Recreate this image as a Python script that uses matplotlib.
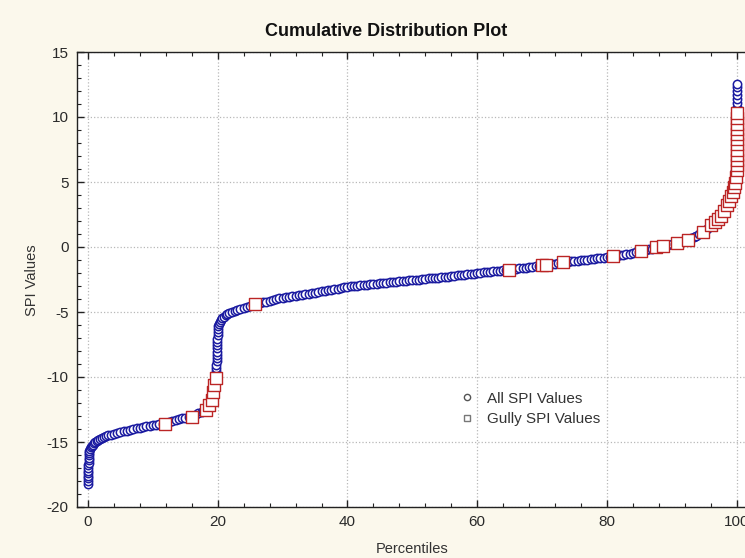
import matplotlib
matplotlib.use("Agg")
import matplotlib.pyplot as plt
from matplotlib.lines import Line2D
from matplotlib.ticker import MultipleLocator

plt.rcParams['font.family'] = ['Liberation Sans', 'DejaVu Sans']
plt.rcParams['axes.unicode_minus'] = False

# ---- data ----
all_pct = [
    0.00, 0.01, 0.02, 0.03, 0.04, 0.05, 0.06, 0.07, 0.08, 0.09, 0.10, 0.12,
    0.15, 0.20, 0.30, 0.40, 0.55, 0.70, 0.90, 1.10, 1.35, 1.60, 1.90, 2.20, 2.50, 2.80, 3.10,
    3.5, 4.0, 4.5, 5.0, 5.5, 6.0, 6.5, 7.0, 7.5, 8.0, 8.5, 9.0, 9.5, 10.0, 10.5, 11.0, 11.5,
    12.0, 12.5, 13.0, 13.5, 14.0, 14.5, 15.0, 15.5, 16.0, 16.5, 17.0, 17.5, 17.8, 18.1, 18.4,
    18.6, 18.8, 19.0, 19.15, 19.3, 19.4, 19.5, 19.58, 19.65, 19.7, 19.73, 19.76, 19.78, 19.8,
    19.82, 19.84, 19.86, 19.88, 19.9, 19.92, 19.94, 19.96, 19.98, 20.0, 20.04, 20.1, 20.2,
    20.35, 20.5, 20.7, 20.9, 21.2, 21.5, 21.8, 22.2, 22.6, 23.0, 23.5, 24.0, 24.5, 25.0, 25.5,
    26.0, 26.5, 27.0, 27.5, 28.0, 28.5, 29.0, 29.5, 30.0,
    30.5, 31.0, 31.5, 32.0, 32.5, 33.0, 33.5, 34.0, 34.5, 35.0, 35.5, 36.0, 36.5, 37.0, 37.5,
    38.0, 38.5, 39.0, 39.5, 40.0,
    40.5, 41.0, 41.5, 42.0, 42.5, 43.0, 43.5, 44.0, 44.5, 45.0, 45.5, 46.0, 46.5, 47.0, 47.5, 48.0,
    48.5, 49.0, 49.5, 50.0, 50.5, 51.0, 51.5, 52.0, 52.5, 53.0, 53.5, 54.0, 54.5, 55.0,
    55.5, 56.0, 56.5, 57.0, 57.5, 58.0, 58.5, 59.0, 59.5, 60.0, 60.5, 61.0,
    61.5, 62.0, 62.5, 63.0, 63.5, 64.0, 64.5, 65.0,
    65.5, 66.0, 66.5, 67.0, 67.5, 68.0, 68.5, 69.0, 69.5, 70.0,
    70.5, 71.0, 71.5, 72.0, 72.5, 73.0,
    73.5, 74.0, 74.5, 75.0, 75.5, 76.0, 76.5, 77.0, 77.5, 78.0, 78.5, 79.0, 79.5, 80.0, 80.5, 81.0,
    81.5, 82.0, 82.5, 83.0, 83.5, 84.0, 84.5, 85.0,
    85.5, 86.0, 86.5, 87.0, 87.5, 88.0,
    88.5, 89.0, 89.5, 90.0, 90.5, 91.0,
    91.4, 91.8, 92.2, 92.6, 93.0, 93.4, 93.8, 94.2, 94.6, 94.9,
    95.2, 95.5, 95.8, 96.1, 96.4, 96.7, 97.0, 97.3, 97.6, 97.85, 98.1, 98.35, 98.6, 98.8, 99.0,
    99.15, 99.3, 99.45, 99.55, 99.65, 99.72, 99.78, 99.83, 99.87, 99.9, 99.93, 99.95, 99.97,
    99.98, 99.99, 100.0, 100.0, 100.0, 100.0, 100.0, 100.0, 100.0, 100.0, 100.0, 100.0,
]
all_spi = [
    -18.2, -18.0, -17.8, -17.6, -17.4, -17.2, -17.0, -16.8, -16.6, -16.4, -16.2, -16.0,
    -15.85, -15.7, -15.55, -15.42, -15.3, -15.2, -15.1, -15.0, -14.9, -14.82, -14.74, -14.66,
    -14.59, -14.53, -14.48,
    -14.44, -14.38, -14.31, -14.25, -14.19, -14.13, -14.07, -14.01, -13.96, -13.91, -13.85,
    -13.80, -13.76, -13.72, -13.67, -13.63, -13.59,
    -13.54, -13.47, -13.40, -13.33, -13.26, -13.19, -13.12, -13.05, -12.98, -12.89, -12.80,
    -12.70, -12.6, -12.45, -12.28,
    -12.12, -11.96, -11.8, -11.55, -11.3, -11.05, -10.8, -10.55, -10.3, -10.05, -9.8, -9.55,
    -9.3, -9.05,
    -8.8, -8.55, -8.3, -8.05, -7.8, -7.55, -7.3, -7.05, -6.8, -6.55, -6.3, -6.08, -5.9,
    -5.74, -5.6, -5.47, -5.36, -5.25, -5.15, -5.07, -4.98, -4.9, -4.83, -4.74, -4.66, -4.59,
    -4.52, -4.45,
    -4.38, -4.32, -4.26, -4.2, -4.14, -4.08, -4.02, -3.96, -3.9,
    -3.86, -3.82, -3.78, -3.74, -3.70, -3.66, -3.62, -3.58, -3.54, -3.50, -3.46, -3.42, -3.38,
    -3.34, -3.30, -3.26, -3.21, -3.16, -3.10, -3.05,
    -3.02, -3.0, -2.97, -2.95, -2.92, -2.9, -2.87, -2.85, -2.82, -2.8, -2.77, -2.75, -2.72,
    -2.7, -2.67, -2.65,
    -2.62, -2.6, -2.57, -2.55, -2.52, -2.5, -2.47, -2.45, -2.42, -2.4, -2.37, -2.35, -2.32, -2.3,
    -2.27, -2.24, -2.21, -2.18, -2.15, -2.12, -2.1, -2.07, -2.04, -2.01, -1.98, -1.95,
    -1.93, -1.9, -1.88, -1.85, -1.83, -1.8, -1.78, -1.75,
    -1.72, -1.68, -1.65, -1.62, -1.58, -1.55, -1.52, -1.48, -1.45, -1.42,
    -1.38, -1.34, -1.31, -1.27, -1.24, -1.2,
    -1.17, -1.14, -1.11, -1.08, -1.05, -1.02, -0.99, -0.97, -0.94, -0.91, -0.88, -0.85, -0.82,
    -0.79, -0.76, -0.73,
    -0.69, -0.64, -0.6, -0.55, -0.51, -0.46, -0.42, -0.37,
    -0.31, -0.25, -0.19, -0.12, -0.06, 0.0,
    0.05, 0.1, 0.15, 0.21, 0.26, 0.32,
    0.39, 0.46, 0.53, 0.61, 0.69, 0.78, 0.88, 0.99, 1.11, 1.2,
    1.3, 1.4, 1.52, 1.66, 1.82, 1.98, 2.14, 2.3, 2.48, 2.68, 2.88, 3.1, 3.32, 3.52, 3.72,
    3.92, 4.12, 4.35, 4.6, 4.9, 5.2, 5.5, 5.85, 6.2, 6.6, 7.0, 7.5, 8.0,
    8.5, 9.0, 9.5, 10.0, 10.4, 10.8, 11.1, 11.4, 11.7, 12.0, 12.3, 12.55,
]

gully_pct = [
    11.8, 16.1, 18.2, 18.7, 19.05, 19.3, 19.5, 19.75, 25.8,
    64.9, 70.0, 70.6, 73.3, 80.9, 85.25, 87.6, 88.7, 90.8, 92.5, 94.8,
    96.1, 96.6, 97.1, 97.6, 98.1, 98.5, 98.9, 99.2, 99.45, 99.65, 99.8, 99.9,
    100.0, 100.0, 100.0, 100.0, 100.0, 100.0, 100.0, 100.0, 100.0, 100.0, 100.0, 100.0,
]
gully_spi = [
    -13.6, -13.05, -12.5, -12.15, -11.8, -11.15, -10.6, -10.1, -4.41,
    -1.75, -1.42, -1.36, -1.17, -0.72, -0.34, -0.02, 0.1, 0.3, 0.54, 1.18,
    1.68, 1.9, 2.15, 2.4, 2.8, 3.2, 3.55, 3.9, 4.25, 4.6, 4.95, 5.4,
    5.9, 6.3, 6.7, 7.1, 7.5, 7.9, 8.3, 8.7, 9.1, 9.5, 9.9, 10.3,
]

legend_labels = ["All SPI Values", "Gully SPI Values"]
title_text = "Cumulative Distribution Plot"
x_label = "Percentiles"
y_label = "SPI Values"

# ---- figure ----
W, H = 745, 558
fig = plt.figure(figsize=(W / 100, H / 100), dpi=100, facecolor='#fbf8ec')
ax = fig.add_axes([77 / W, 1 - 507 / H, 1 - 77 / W, (507 - 52) / H])
ax.set_facecolor('white')

ax.scatter(all_pct, all_spi, s=36, marker='o', facecolors='white',
           edgecolors='#1a1aa0', linewidths=1.1, zorder=3)
ax.scatter(gully_pct, gully_spi, s=80, marker='s', facecolors='white',
           edgecolors='#bb2525', linewidths=1.0, zorder=4)

ax.set_xlim(-1.7, 101.3)
ax.set_ylim(-20, 15)
ax.xaxis.set_major_locator(MultipleLocator(20))
ax.xaxis.set_minor_locator(MultipleLocator(4))
ax.yaxis.set_major_locator(MultipleLocator(5))
ax.yaxis.set_minor_locator(MultipleLocator(1))
ax.tick_params(which='both', direction='in', top=True, right=False,
               labelsize=11, labelcolor='#2a2a2a', color='#222222')
ax.tick_params(which='major', length=5, width=1)
ax.tick_params(which='minor', length=3, width=0.8)
ax.tick_params(axis='x', pad=6)
ax.tick_params(axis='y', pad=6)
ax.spines['right'].set_visible(False)
for s in ('left', 'bottom', 'top'):
    ax.spines[s].set_color('#222222')
    ax.spines[s].set_linewidth(1.0)
ax.grid(True, which='major', linestyle=':', color='#b8b8b8', linewidth=0.9)
ax.set_axisbelow(True)

fig.text(386 / W, 1 - 31 / H, title_text, ha='center', va='center',
         fontsize=13, fontweight='bold', color='#111111')
fig.text(412 / W, 1 - 549 / H, x_label, ha='center', va='center',
         fontsize=10.5, color='#333333')
fig.text(32 / W, 1 - 280 / H, y_label, ha='center', va='center',
         rotation=90, fontsize=10.5, color='#333333')

handles = [
    Line2D([], [], linestyle='none', marker='o', markersize=4.5,
           markerfacecolor='white', markeredgecolor='#555555', markeredgewidth=1.0),
    Line2D([], [], linestyle='none', marker='s', markersize=5,
           markerfacecolor='white', markeredgecolor='#777777', markeredgewidth=1.0),
]
ax.legend(handles, legend_labels, loc='center left',
          bbox_to_anchor=(0.5725, 0.2154), frameon=False, fontsize=11,
          handlelength=1.0, handletextpad=0.8, labelspacing=0.42,
          borderpad=0, borderaxespad=0, labelcolor='#333333')

fig.savefig('out.png', dpi=100, facecolor=fig.get_facecolor())
